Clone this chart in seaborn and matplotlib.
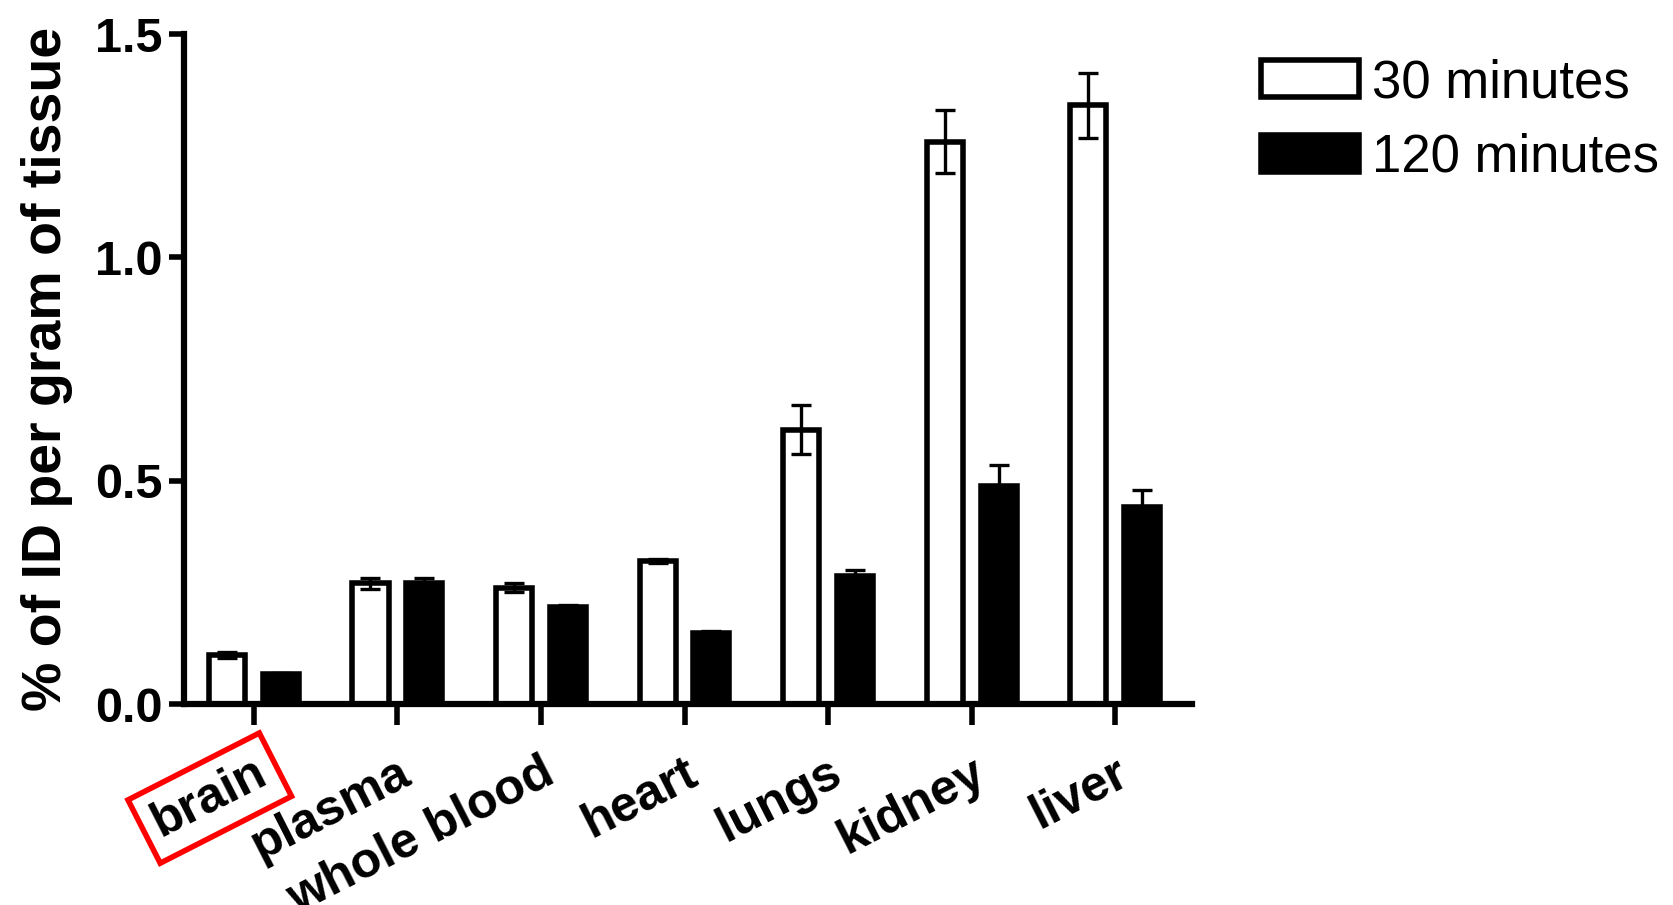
import matplotlib
matplotlib.use("Agg")
import matplotlib.pyplot as plt
import seaborn as sns
import pandas as pd
import numpy as np
from matplotlib.patches import Patch

tissues = ["brain", "plasma", "whole blood", "heart", "lungs", "kidney", "liver"]
times = ["30 minutes", "120 minutes"]
vals_30 = [0.11, 0.27, 0.26, 0.32, 0.614, 1.259, 1.34]
err_30 = [0.006, 0.012, 0.01, 0.005, 0.055, 0.07, 0.072]
vals_120 = [0.067, 0.27, 0.217, 0.16, 0.287, 0.487, 0.442]
err_120 = [0.003, 0.012, 0.005, 0.004, 0.014, 0.048, 0.036]
y_ticks = [0.0, 0.5, 1.0, 1.5]

sns.set_theme(style="ticks", rc={
    "axes.edgecolor": "black", "text.color": "black", "axes.labelcolor": "black",
    "xtick.color": "black", "ytick.color": "black"})
plt.rcParams["font.family"] = ["Liberation Sans", "DejaVu Sans"]

df = pd.DataFrame({
    "tissue": tissues * 2,
    "time": [times[0]] * len(tissues) + [times[1]] * len(tissues),
    "value": vals_30 + vals_120,
    "err": err_30 + err_120,
})

fig = plt.figure(figsize=(16.73, 9.05), dpi=100)
ax = fig.add_axes([183.5 / 1673, 1 - 704 / 905, (1192 - 183.5) / 1673, (704 - 34) / 905])

sns.barplot(data=df, x="tissue", y="value", hue="time", order=tissues, hue_order=times,
            palette=["white", "black"], edgecolor="black", linewidth=4,
            width=0.75, gap=0.33, errorbar=None, ax=ax, legend=False)

# error bars at bar centres
for container, errs, vals in zip(ax.containers, [err_30, err_120], [vals_30, vals_120]):
    xs = [p.get_x() + p.get_width() / 2 for p in container.patches]
    ax.errorbar(xs, vals, yerr=errs, fmt="none", ecolor="black", elinewidth=2.4,
                capsize=7.5, capthick=2.4, zorder=5)

ax.set_xlim(-0.49, 6.535)
ax.set_ylim(0, 1.5)
ax.set_yticks(y_ticks)
ax.set_yticklabels([f"{t:.1f}" for t in y_ticks], fontsize=35, fontweight="bold")
ax.set_xlabel("")
ax.set_ylabel("% of ID per gram of tissue", fontsize=40, fontweight="bold", labelpad=16)

for s in ["top", "right"]:
    ax.spines[s].set_visible(False)
for s in ["left", "bottom"]:
    ax.spines[s].set_linewidth(4.5)
    ax.spines[s].set_capstyle("projecting")
ax.tick_params(axis="y", length=11, width=4, pad=4)
ax.tick_params(axis="x", length=15, width=4, pad=18)

labels = ax.set_xticklabels(tissues, rotation=27, ha="right", rotation_mode="anchor",
                            fontsize=36, fontweight="bold")
for lab in labels:
    lab.set_va("top")
labels[0].set_bbox(dict(facecolor="none", edgecolor="#ff0000", linewidth=4,
                        boxstyle="square,pad=0.25"))

handles = [Patch(facecolor="white", edgecolor="black", linewidth=4),
           Patch(facecolor="black", edgecolor="black", linewidth=4)]
fig.legend(handles, times, loc="upper left", bbox_to_anchor=(1261 / 1673, 1 - 58 / 905),
           frameon=False, fontsize=38, handlelength=1.85, handleheight=0.7,
           handletextpad=0.25, labelspacing=0.47, borderaxespad=0, borderpad=0)

fig.savefig("out.png", dpi=100)
